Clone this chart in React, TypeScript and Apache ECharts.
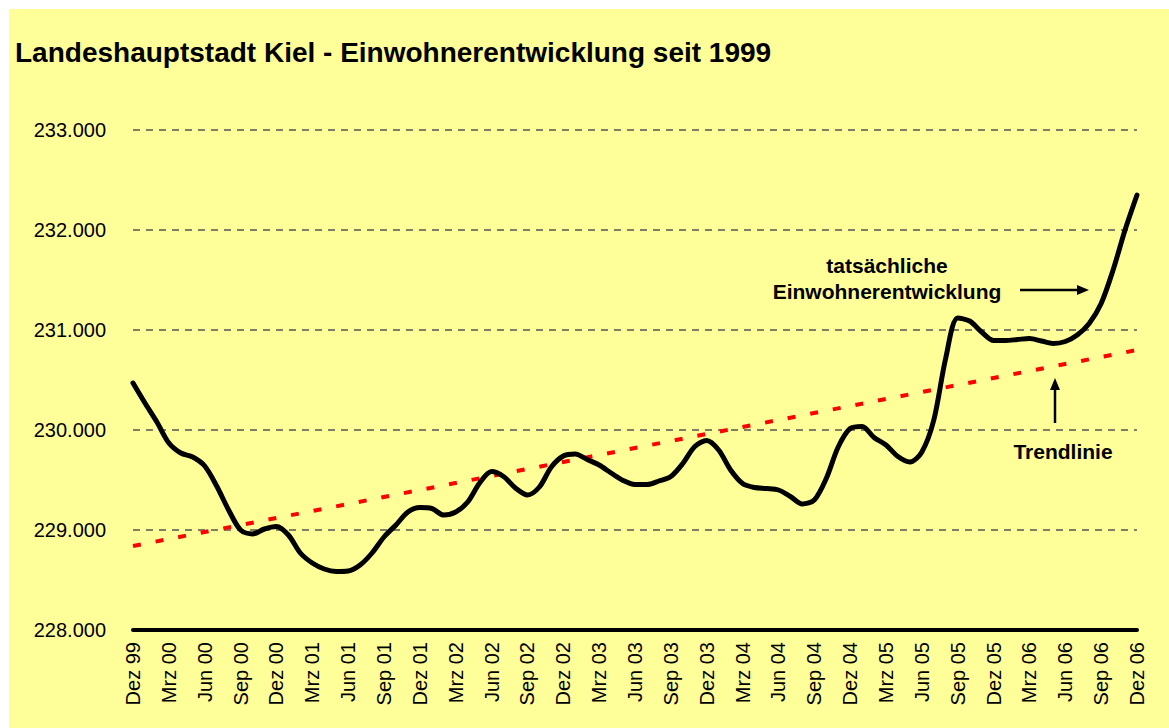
import React, { useEffect, useRef } from "react";
import * as echarts from "echarts";

const monthNames = ["Jan", "Feb", "Mrz", "Apr", "Mai", "Jun", "Jul", "Aug", "Sep", "Okt", "Nov", "Dez"];
const categories: string[] = ["Dez 99"];
for (let y = 0; y <= 6; y++) {
  for (let m = 0; m < 12; m++) {
    categories.push(monthNames[m] + " 0" + y);
  }
}

const population = [
  230470, 230270, 230080, 229870, 229770, 229730, 229640, 229440, 229200, 229000,
  228960, 229010, 229035, 228950, 228770, 228670, 228610, 228585, 228590, 228650,
  228770, 228930, 229050, 229180, 229225, 229215, 229150, 229180, 229280, 229470,
  229585, 229535, 229420, 229350, 229430, 229630, 229740, 229760, 229705, 229650,
  229570, 229495, 229455, 229455, 229490, 229535, 229665, 229835, 229895, 229800,
  229600, 229465, 229425, 229415, 229400, 229335, 229260, 229300, 229515, 229830,
  230015, 230035, 229925, 229850, 229735, 229680, 229780, 230100, 230720, 231120,
  231090, 230980, 230895, 230895, 230905, 230915, 230890, 230865, 230885, 230950,
  231065, 231265, 231600, 232000, 232350,
];

const trendStart = 228840;
const trendEnd = 230800;

const yMin = 228000;
const yMax = 233000;
const yStep = 1000;

const titleText = "Landeshauptstadt Kiel - Einwohnerentwicklung seit 1999";

export default function App() {
  const ref = useRef<HTMLDivElement>(null);

  useEffect(() => {
    if (!ref.current) return;
    const chart = echarts.init(ref.current, null, { renderer: "svg" });
    const trend = population.map((_, i) =>
      i === 0 ? trendStart : i === population.length - 1 ? trendEnd : null
    );
    const font = "'Liberation Sans', Arial, sans-serif";
    const annFont = "bold 21px 'Liberation Sans', Arial, sans-serif";
    chart.setOption({
      animation: false,
      backgroundColor: "#FFFF99",
      grid: { left: 124, right: 32, top: 121, bottom: 98, containLabel: false },
      xAxis: {
        type: "category",
        data: categories,
        boundaryGap: false,
        axisLine: { show: true, lineStyle: { color: "#000", width: 4 } },
        axisTick: { show: false },
        axisLabel: {
          interval: 2,
          rotate: 90,
          margin: 12,
          color: "#000",
          fontSize: 20,
          fontFamily: font,
        },
        splitLine: { show: false },
      },
      yAxis: {
        type: "value",
        min: yMin,
        max: yMax,
        interval: yStep,
        axisLine: { show: false },
        axisTick: { show: false },
        axisLabel: {
          margin: 27,
          color: "#000",
          fontSize: 20,
          fontFamily: font,
          formatter: (v: number) => (v / 1000).toFixed(3),
        },
        splitLine: {
          show: true,
          lineStyle: { color: "#555", width: 1.5, type: [7, 6] },
        },
      },
      series: [
        {
          name: "Trendlinie",
          type: "line",
          data: trend,
          connectNulls: true,
          showSymbol: false,
          symbol: "none",
          lineStyle: { color: "#FF0000", width: 4, type: [8, 15], cap: "butt" },
          z: 2,
        },
        {
          name: "Einwohner",
          type: "line",
          data: population,
          smooth: 0.3,
          showSymbol: false,
          symbol: "none",
          lineStyle: { color: "#000", width: 5, cap: "round", join: "round" },
          z: 3,
        },
      ],
      graphic: [
        {
          type: "text",
          x: 6,
          y: 43,
          style: {
            text: titleText,
            font: "bold 28px 'Liberation Sans', Arial, sans-serif",
            fill: "#000",
            align: "left",
            verticalAlign: "middle",
          },
        },
        {
          type: "text",
          x: 878,
          y: 256,
          style: {
            text: "tatsächliche",
            font: annFont,
            fill: "#000",
            align: "center",
            verticalAlign: "middle",
          },
        },
        {
          type: "text",
          x: 878,
          y: 282,
          style: {
            text: "Einwohnerentwicklung",
            font: annFont,
            fill: "#000",
            align: "center",
            verticalAlign: "middle",
          },
        },
        {
          type: "line",
          shape: { x1: 1011, y1: 281, x2: 1070, y2: 281 },
          style: { stroke: "#000", lineWidth: 2.5 },
        },
        {
          type: "polygon",
          shape: { points: [[1068, 276], [1080, 281], [1068, 286]] },
          style: { fill: "#000" },
        },
        {
          type: "text",
          x: 1054,
          y: 442,
          style: {
            text: "Trendlinie",
            font: annFont,
            fill: "#000",
            align: "center",
            verticalAlign: "middle",
          },
        },
        {
          type: "line",
          shape: { x1: 1046, y1: 414, x2: 1046, y2: 380 },
          style: { stroke: "#000", lineWidth: 2.5 },
        },
        {
          type: "polygon",
          shape: { points: [[1041, 381], [1046, 369], [1051, 381]] },
          style: { fill: "#000" },
        },
      ],
    });
    return () => chart.dispose();
  }, []);

  return (
    <div style={{ position: "fixed", left: 0, top: 0, right: 0, bottom: 0, background: "#fff" }}>
      <div
        ref={ref}
        style={{ position: "absolute", left: 9, top: 9, width: 1160, height: 719 }}
      />
    </div>
  );
}
